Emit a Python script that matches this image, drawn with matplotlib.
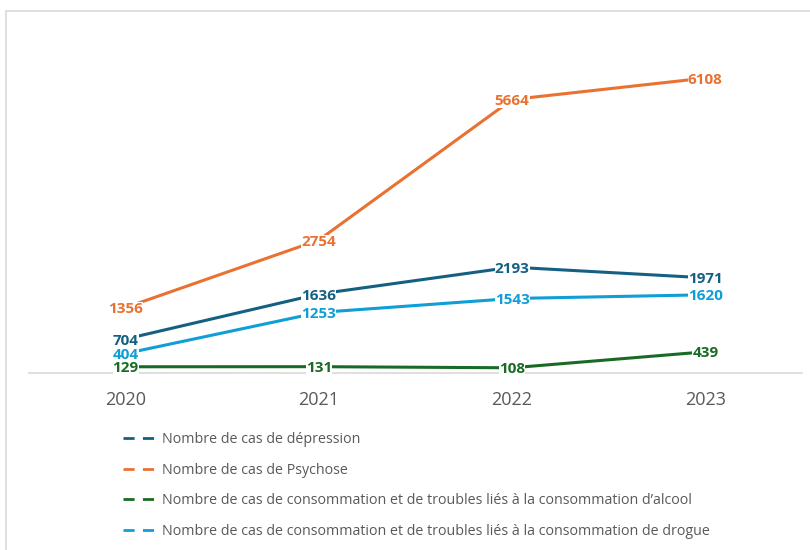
import matplotlib
matplotlib.use("Agg")
import matplotlib.pyplot as plt
from matplotlib.lines import Line2D
from matplotlib.patches import Rectangle

years = ["2020", "2021", "2022", "2023"]
depression = [704, 1636, 2193, 1971]
psychose = [1356, 2754, 5664, 6108]
alcool = [129, 131, 108, 439]
drogue = [404, 1253, 1543, 1620]

noms = [
    "Nombre de cas de dépression",
    "Nombre de cas de Psychose",
    "Nombre de cas de consommation et de troubles liés à la consommation d\u2019alcool",
    "Nombre de cas de consommation et de troubles liés à la consommation de drogue",
]
couleurs = ["#156082", "#E97132", "#196B24", "#0F9ED5"]
series = [depression, psychose, alcool, drogue]
# labels of the lower series go on top so nothing gets hidden
label_z = [4, 3, 6, 5]

plt.rcParams['font.family'] = ['Open Sans', 'DejaVu Sans']

fig = plt.figure(figsize=(8.1, 5.5), dpi=100)
ax = fig.add_axes([29 / 810, (550 - 373) / 550, (802 - 29) / 810, 338 / 550])

x = list(range(len(years)))
for vals, col, z in zip(series, couleurs, label_z):
    ax.plot(x, vals, color=col, lw=2.2, solid_capstyle='butt', zorder=2)
    for xi, v in zip(x, vals):
        ax.text(xi, v, str(v), color=col, fontsize=11, fontweight='bold',
                ha='center', va='center_baseline', zorder=z,
                bbox=dict(boxstyle='square,pad=0.0', fc='white', ec='none'))

ax.set_xlim(-0.5, 3.5)
ax.set_ylim(0, 7000)
ax.set_xticks(x)
ax.set_xticklabels(years, fontsize=13, color='#595959')
ax.tick_params(axis='x', length=0, pad=13)
ax.set_yticks([])
for s in ['top', 'right', 'left']:
    ax.spines[s].set_visible(False)
ax.spines['bottom'].set_color('#d9d9d9')
ax.spines['bottom'].set_linewidth(1.2)

handles = [Line2D([], [], color=c, lw=2, dashes=(4, 3)) for c in couleurs]
fig.legend(handles, noms, loc='upper left', bbox_to_anchor=(110 / 810, 1 - 419 / 550),
           frameon=False, fontsize=10.3, labelcolor='#595959', handlelength=2.4,
           handletextpad=0.3, labelspacing=1.1)

fig.add_artist(Rectangle((6 / 810, -0.05), 1.0, 1 - 11 / 550 + 0.05,
                         transform=fig.transFigure, fill=False,
                         ec='#d9d9d9', lw=1.2))

fig.savefig("out.png", dpi=100)
